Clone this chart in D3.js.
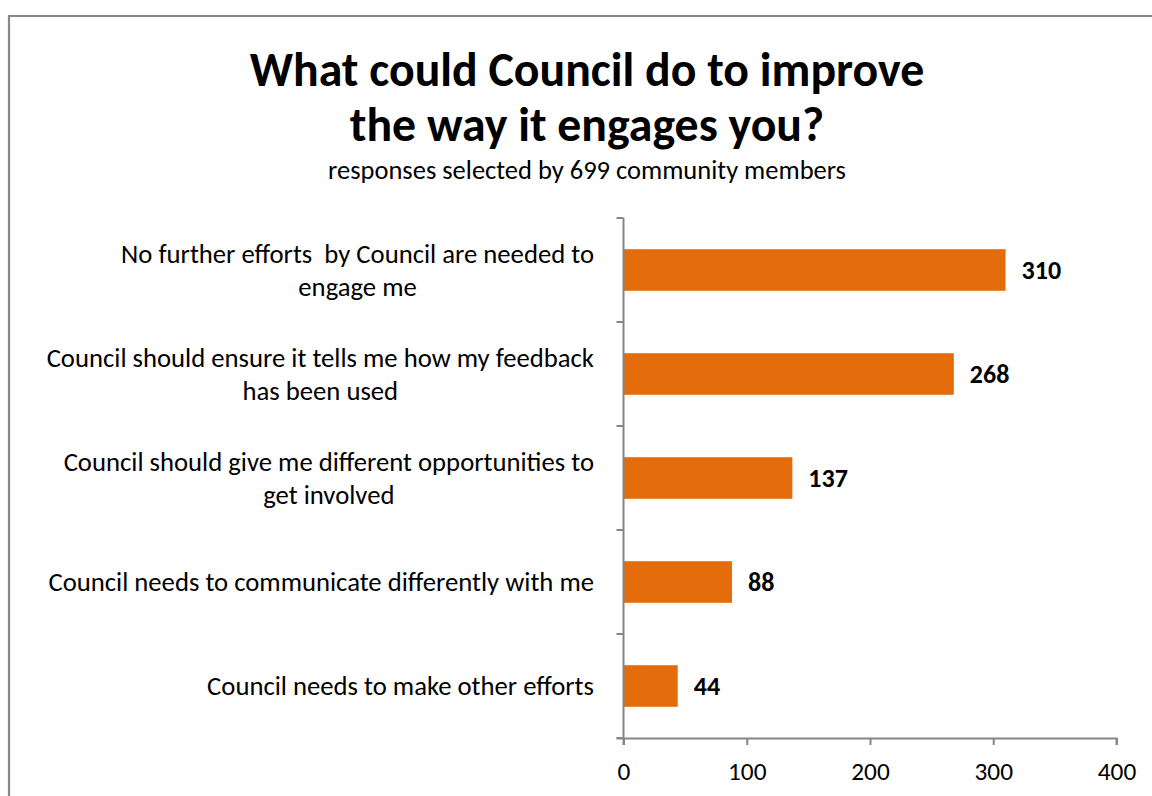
<!DOCTYPE html>
<html>
<head>
<meta charset="utf-8">
<script src="https://cdn.jsdelivr.net/npm/d3@7"></script>
<style>
  html, body { margin: 0; padding: 0; background: #fff; }
  svg { display: block; font-family: Carlito, Lato, "Open Sans", sans-serif; }
  svg text { white-space: pre; }
</style>
</head>
<body>
<svg id="chart" width="1152" height="796"></svg>
<script>
// Responses, top to bottom
const categories = [
  ["No further efforts  by Council are needed to", "engage me"],
  ["Council should ensure it tells me how my feedback", "has been used"],
  ["Council should give me different opportunities to", "get involved"],
  ["Council needs to communicate differently with me"],
  ["Council needs to make other efforts"]
];
const values = [310, 268, 137, 88, 44];
const xTicks = [0, 100, 200, 300, 400];

const titleLines = ["What could Council do to improve", "the way it engages you?"];
const subtitle = "responses selected by 699 community members";

const svg = d3.select("#chart");
const W = 1152, H = 796;
const barColor = "#E46C0A";
const axisColor = "#868686";
const fontStack = "Carlito, Lato, 'Open Sans', sans-serif";

// outer frame
svg.append("path")
  .attr("d", `M9,${H + 5}V16H${W + 5}`)
  .attr("fill", "none")
  .attr("stroke", "#888")
  .attr("stroke-width", 2.2);

// title block
const cx = 587;
svg.selectAll("text.title").data(titleLines).join("text")
  .attr("class", "title")
  .attr("x", cx)
  .attr("y", (d, i) => 86 + i * 55)
  .attr("text-anchor", "middle")
  .attr("font-size", 47.8)
  .attr("font-weight", "bold")
  .attr("fill", "#000")
  .text(d => d);

svg.append("text")
  .attr("x", cx)
  .attr("y", 179)
  .attr("text-anchor", "middle")
  .attr("font-size", 26.5)
  .attr("fill", "#000")
  .text(subtitle);

// plot area
const x0 = 623.5, x1 = 1116.5, yTop = 218, yBot = 738;
const x = d3.scaleLinear().domain([0, 400]).range([x0, x1]);
const y = d3.scaleBand().domain(d3.range(categories.length)).range([yTop, yBot])
  .paddingInner(0.6).paddingOuter(0.3);
const yEdges = d3.scaleLinear().domain([0, categories.length]).range([yTop, yBot]);

// bars
svg.selectAll("rect.bar").data(values).join("rect")
  .attr("class", "bar")
  .attr("x", x(0))
  .attr("y", (d, i) => y(i))
  .attr("width", d => x(d) - x(0))
  .attr("height", y.bandwidth())
  .attr("fill", barColor);

// value axis
const xAxis = svg.append("g")
  .attr("transform", `translate(0,${yBot})`)
  .call(d3.axisBottom(x).tickValues(xTicks).tickSize(7).tickPadding(17).tickFormat(d3.format("d")));
xAxis.select(".domain").attr("stroke", axisColor).attr("stroke-width", 2)
  .attr("d", `M${x0 - 7},0.5H${x1}V7`);
xAxis.selectAll(".tick line").attr("stroke", axisColor).attr("stroke-width", 2);
xAxis.selectAll(".tick text").attr("font-size", 25.3).attr("fill", "#000")
  .attr("font-family", fontStack);

// category axis: line with tick marks between categories
const catAxis = svg.append("g");
catAxis.append("line")
  .attr("x1", x0).attr("x2", x0).attr("y1", yTop).attr("y2", yBot + 7)
  .attr("stroke", axisColor).attr("stroke-width", 2);
catAxis.selectAll("line.tk").data(d3.range(categories.length + 1)).join("line")
  .attr("class", "tk")
  .attr("x1", x0 - 7).attr("x2", x0)
  .attr("y1", d => yEdges(d)).attr("y2", d => yEdges(d))
  .attr("stroke", axisColor).attr("stroke-width", 2);

// category labels: lines centered on each other, block right-aligned
const labelRight = 594;
const lineH = 33;
categories.forEach((lines, i) => {
  const g = svg.append("g");
  const cy = y(i) + y.bandwidth() / 2;
  const texts = g.selectAll("text").data(lines).join("text")
    .attr("font-size", 26.7)
    .attr("fill", "#000")
    .attr("dominant-baseline", "central")
    .attr("y", (d, k) => cy + (k - (lines.length - 1) / 2) * lineH)
    .text(d => d);
  const widths = texts.nodes().map(n => n.getComputedTextLength());
  const wmax = d3.max(widths);
  texts.attr("text-anchor", "middle").attr("x", labelRight - wmax / 2);
});

// value labels
svg.selectAll("text.val").data(values).join("text")
  .attr("class", "val")
  .attr("x", d => x(d) + 16)
  .attr("y", (d, i) => y(i) + y.bandwidth() / 2)
  .attr("dominant-baseline", "central")
  .attr("font-size", 26)
  .attr("font-weight", "bold")
  .attr("fill", "#000")
  .text(d => d);
</script>
</body>
</html>
